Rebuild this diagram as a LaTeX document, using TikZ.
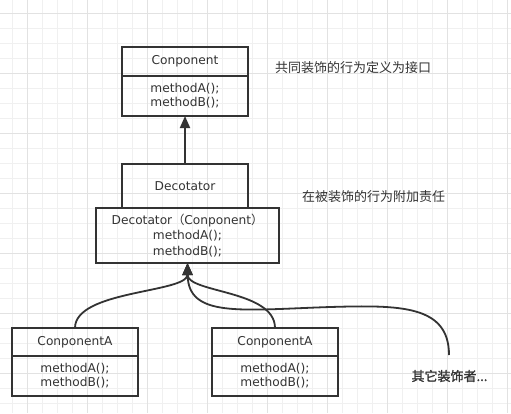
\documentclass[tikz,border=0pt]{standalone}
\usepackage{fontspec}
\setmainfont{DejaVu Sans}
\newfontfamily\cjk{Noto Sans CJK SC}
\newfontfamily\cjkb[FakeBold=1.3]{Noto Sans CJK SC}
\usetikzlibrary{positioning, arrows.meta}
\definecolor{ink}{HTML}{333333}
\definecolor{gridminor}{HTML}{F0F0F0}
\definecolor{gridmajor}{HTML}{E2E2E2}

\begin{document}
\begin{tikzpicture}[x=1pt, y=-1pt, font=\fontsize{12.2}{14}\selectfont,
    box/.style={rectangle, draw=ink, line width=1.8pt, outer sep=0pt, inner sep=0pt, minimum width=126pt, align=center, text=ink},
    head/.style={box, minimum height=29pt},
    body/.style={box, minimum height=40pt},
    note/.style={anchor=west, inner sep=0pt, text=ink, font=\cjk\fontsize{13}{14}\selectfont},
    link/.style={draw=ink, line width=1.8pt, -{Triangle[width=10pt,length=12pt]}}]
\useasboundingbox[fill=white] (0,0) rectangle (511,413);
\foreach \i in {0,...,33} \draw[gridminor, line width=0.8pt] (12.5+15*\i,0) -- (12.5+15*\i,413);
\foreach \i in {0,...,26} \draw[gridminor, line width=0.8pt] (0,13+15*\i) -- (511,13+15*\i);
\foreach \i in {0,...,8} \draw[gridmajor, line width=0.8pt] (27.5+60*\i,0) -- (27.5+60*\i,413);
\foreach \i in {0,...,6} \draw[gridmajor, line width=0.8pt] (0,13+60*\i) -- (511,13+60*\i);

\node[head] (comp) at (185,61.5) {Conponent};
\node[body, below=0pt of comp] (compM) {methodA();\\methodB();};
\node[note] (noteI) at (275,68) {共同装饰的行为定义为接口};

\node[head, minimum height=44pt] (deco) at (185,186) {Decotator};
\node[box, minimum width=183pt, minimum height=55pt, font=\fontsize{12.2}{15.5}\selectfont] (decoM) at (187.5,235.5) {Decotator{\cjk （}Conponent{\cjk ）}\\methodA();\\methodB();};
\node[note] (noteD) at (302,197) {在被装饰的行为附加责任};

\node[head, minimum height=28pt] (conA) at (75,342) {ConponentA};
\node[body, below=0pt of conA] (conAM) {methodA();\\methodB();};
\node[head, minimum height=28pt] (conB) at (275,342) {ConponentA};
\node[body, below=0pt of conB] (conBM) {methodA();\\methodB();};
\node[inner sep=0pt, text=ink, font=\cjkb\fontsize{13}{14}\selectfont] (others) at (449.5,376) {其它装饰者...};
\coordinate (othersTop) at (449,355);

\draw[link] (deco) -- (compM);
\draw[link] (conA.north) .. controls +(0,-38) and +(0,30) .. (decoM.south);
\draw[link] (conB.north) .. controls +(0,-38) and +(0,30) .. (decoM.south);
\draw[link] (othersTop) .. controls (449,305) and (400,305) .. (330,307) .. controls (240,310) and (188,318) .. (decoM.south);
\end{tikzpicture}
\end{document}
